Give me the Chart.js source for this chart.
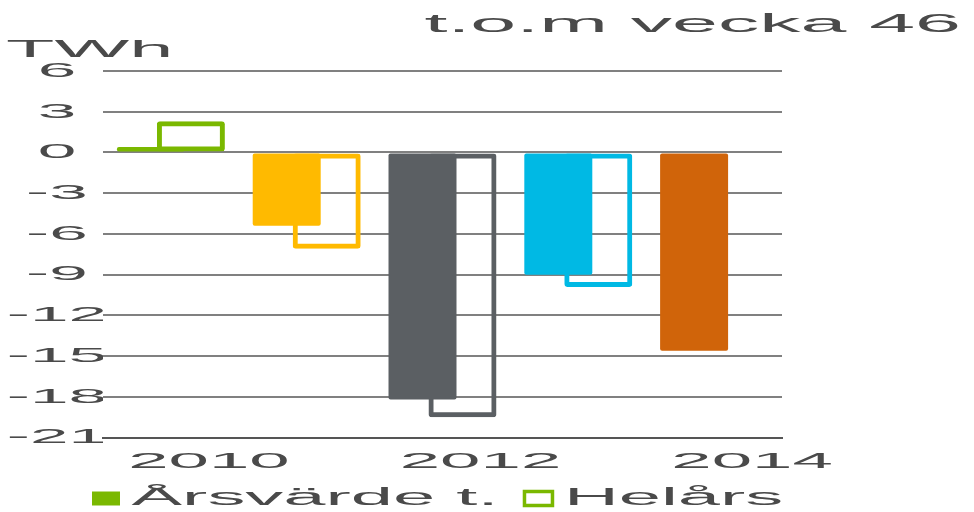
<!DOCTYPE html>
<html>
<head>
<meta charset="utf-8">
<title>t.o.m vecka 46</title>
<script src="https://cdn.jsdelivr.net/npm/chart.js@4.4.1/dist/chart.umd.min.js"></script>
<style>
  html, body { margin: 0; padding: 0; background: #fff; }
</style>
</head>
<body>
<canvas id="myChart" width="974" height="512"></canvas>
<script>
const years = ["2010", "2011", "2012", "2013", "2014"];
const shownYears = ["2010", "2012", "2014"];
const arsvardeValues = [0.4, -5.4, -18.2, -9.0, -14.6];
const helarsValues = [2.3, -7.1, -19.5, -9.9, null];
const yearColors = ["#7ab800", "#ffba00", "#5b5f63", "#00b9e4", "#d0640a"];
const seriesNames = ["Årsvärde t.", "Helårs"];
const yMin = -21;
const yMax = 6;
const yStep = 3;
const titleText = "t.o.m vecka 46";
const unitText = "TWh";

const FONT = "'Liberation Sans', Arial, sans-serif";
const TEXT_COLOR = "#4a4a4a";
// the original has all text stretched wide, so scale glyphs horizontally
const STRETCH = 3.3;

const canvas = document.getElementById("myChart");
const ctx = canvas.getContext("2d");
const rawFillText = ctx.fillText.bind(ctx);
const rawMeasureText = ctx.measureText.bind(ctx);
ctx.fillText = function (text, x, y) {
  ctx.save();
  ctx.translate(x, y);
  ctx.scale(STRETCH, 1);
  rawFillText(text, 0, 0);
  ctx.restore();
};
ctx.measureText = function (text) {
  const m = rawMeasureText(text);
  return {
    width: m.width * STRETCH,
    actualBoundingBoxLeft: m.actualBoundingBoxLeft * STRETCH,
    actualBoundingBoxRight: m.actualBoundingBoxRight * STRETCH,
    actualBoundingBoxAscent: m.actualBoundingBoxAscent,
    actualBoundingBoxDescent: m.actualBoundingBoxDescent,
  };
};

// legend sits left of centre and tight to the bottom in the original
const legendShift = {
  id: "legendShift",
  afterLayout(chart) {
    const lg = chart.legend;
    lg.left += 60;
    lg.right += 60;
    lg.top -= 25;
    lg.bottom -= 25;
  },
};

new Chart(ctx, {
  type: "bar",
  data: {
    labels: years,
    datasets: [
      {
        label: seriesNames[0],
        data: arsvardeValues,
        backgroundColor: yearColors,
        borderWidth: 0,
        borderRadius: 2,
        borderSkipped: false,
      },
      {
        label: seriesNames[1],
        data: helarsValues,
        backgroundColor: "rgba(0,0,0,0)",
        borderColor: yearColors,
        borderWidth: 5,
        borderRadius: 3,
        borderSkipped: false,
      },
    ],
  },
  options: {
    responsive: false,
    animation: false,
    // wide bars on narrow slots so the pair overlaps like the original
    categoryPercentage: 0.589,
    barPercentage: 1.7,
    layout: { padding: { left: 6, right: 13, top: 0, bottom: -33 } },
    plugins: {
      title: {
        display: true,
        text: titleText,
        align: "end",
        color: TEXT_COLOR,
        font: { family: FONT, size: 25, weight: "normal", lineHeight: 1 },
        padding: { top: 13, bottom: 0 },
      },
      subtitle: {
        display: true,
        text: unitText,
        align: "start",
        color: TEXT_COLOR,
        font: { family: FONT, size: 24, weight: "normal", lineHeight: 1 },
        padding: { top: 0, bottom: 9 },
      },
      legend: {
        position: "bottom",
        align: "start",
        labels: {
          color: TEXT_COLOR,
          font: { family: FONT, size: 23 },
          boxWidth: 28,
          boxHeight: 14,
          padding: 26,
          generateLabels: (chart) =>
            chart.data.datasets.map((ds, i) => ({
              text: ds.label,
              fillStyle: i === 0 ? yearColors[0] : "rgba(0,0,0,0)",
              strokeStyle: yearColors[0],
              lineWidth: i === 0 ? 0 : 3.5,
              fontColor: TEXT_COLOR,
              hidden: false,
              datasetIndex: i,
            })),
        },
      },
      tooltip: { enabled: false },
    },
    scales: {
      x: {
        grid: { display: false, drawTicks: false },
        border: { display: true, color: "#555", width: 2 },
        ticks: {
          autoSkip: false,
          maxRotation: 0,
          padding: 11,
          labelOffset: 38,
          color: TEXT_COLOR,
          font: { family: FONT, size: 22 },
          callback: function (value) {
            const label = this.getLabelForValue(value);
            return shownYears.includes(label) ? label : "";
          },
        },
      },
      y: {
        min: yMin,
        max: yMax,
        afterFit: (scale) => {
          scale.width = 97;
        },
        grid: { color: "#808080", lineWidth: 2, drawTicks: false },
        border: { display: false },
        ticks: {
          stepSize: yStep,
          padding: -4,
          crossAlign: "center",
          color: TEXT_COLOR,
          font: { family: FONT, size: 21 },
        },
      },
      yRight: {
        position: "right",
        afterFit: (scale) => {
          scale.width = 179;
        },
        grid: { display: false },
        border: { display: false },
        ticks: { display: false },
      },
    },
  },
  plugins: [legendShift],
});
</script>
</body>
</html>
